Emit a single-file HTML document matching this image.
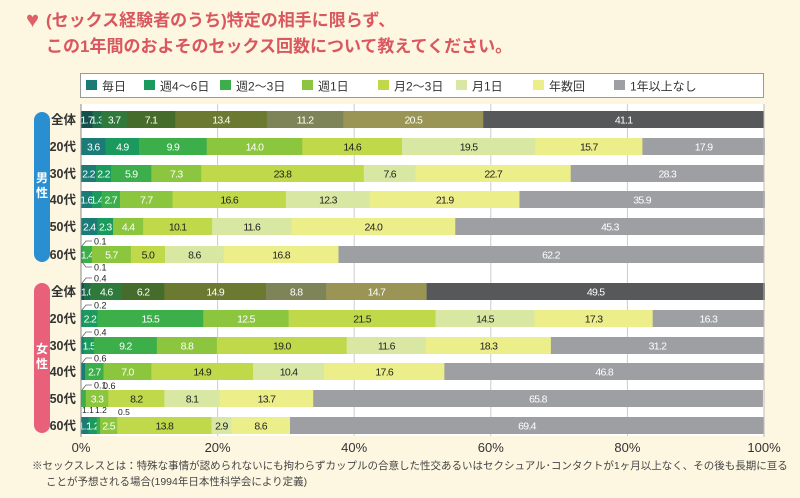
<!DOCTYPE html>
<html><head><meta charset="utf-8"><style>
body{margin:0;background:#fdf6e1;}
svg{display:block;font-family:"Liberation Sans","Noto Sans CJK JP",sans-serif;}
</style></head><body>
<svg id="s" width="800" height="498" xmlns="http://www.w3.org/2000/svg">
<rect width="800" height="498" fill="#fdf6e1"/>
<text x="26" y="27" font-size="22" fill="#e0606a">♥</text>
<text x="46" y="26" font-size="17" font-weight="bold" fill="#d9575f">(セックス経験者のうち)特定の相手に限らず、</text>
<text x="46" y="52" font-size="17" font-weight="bold" fill="#d9575f">この1年間のおよそのセックス回数について教えてください。</text>
<rect x="80.5" y="73.5" width="683" height="24" fill="#fff" stroke="#999"/>
<rect x="81" y="104" width="683" height="332" fill="#fff"/>
<g id="g"></g>
<line x1="81" y1="104" x2="81" y2="437" stroke="#888"/>
<line x1="764" y1="104" x2="764" y2="437" stroke="#bbb"/>
<rect x="34" y="112" width="16" height="150" rx="8" fill="#2a8fd0"/>
<text x="42" y="182" font-size="12" font-weight="bold" fill="#fff" text-anchor="middle">男</text>
<text x="42" y="197" font-size="12" font-weight="bold" fill="#fff" text-anchor="middle">性</text>
<rect x="34" y="283" width="16" height="150" rx="8" fill="#e8607a"/>
<text x="42" y="353" font-size="12" font-weight="bold" fill="#fff" text-anchor="middle">女</text>
<text x="42" y="368" font-size="12" font-weight="bold" fill="#fff" text-anchor="middle">性</text>
<g font-size="13" fill="#333" text-anchor="middle">
<text x="81" y="452">0%</text><text x="217.6" y="452">20%</text><text x="354.2" y="452">40%</text><text x="490.8" y="452">60%</text><text x="627.4" y="452">80%</text><text x="764" y="452">100%</text></g>
<text x="32" y="469" font-size="10.5" fill="#444">※セックスレスとは：特殊な事情が認められないにも拘わらずカップルの合意した性交あるいはセクシュアル･コンタクトが1ヶ月以上なく、その後も長期に亘る</text>
<text x="46" y="485" font-size="10.5" fill="#444">ことが予想される場合(1994年日本性科学会により定義)</text>
</svg>
<script>
const g=document.getElementById('g');const NS='http://www.w3.org/2000/svg';
function el(t,a,txt){const e=document.createElementNS(NS,t);for(const k in a)e.setAttribute(k,a[k]);if(txt!==undefined)e.textContent=txt;g.appendChild(e);return e;}
for(let i=1;i<5;i++)el('line',{x1:81+136.6*i,y1:104,x2:81+136.6*i,y2:436,stroke:'#ccc'});
const C=['#1b7b76','#1a9a5c','#3cae4a','#8cc63f','#bfd94a','#d8e7a2','#ecee8a','#9d9fa2'];
const T=['#134f4b','#1f6e4a','#2f7a3a','#466c2c','#6b7a30','#7f8458','#9a9555','#56585a'];
const dark=[1,1,1,1,0,0,0,1];
const names=['毎日','週4～6日','週2～3日','週1日','月2～3日','月1日','年数回','1年以上なし'];
const lx=[98,156,232,314,390,468,545,626];
names.forEach((n,i)=>{el('rect',{x:lx[i]-12,y:80,width:11,height:10,fill:C[i]});el('text',{x:lx[i]+4,y:90.5,'font-size':12,fill:'#333'},n);});
const rows=[
['全体',119,[1.7,1.3,3.7,7.1,13.4,11.2,20.5,41.1],1],
['20代',146,[3.6,4.9,9.9,14.0,14.6,19.5,15.7,17.9],0],
['30代',173,[2.2,2.2,5.9,7.3,23.8,7.6,22.7,28.3],0],
['40代',199,[1.6,1.4,2.7,7.7,16.6,12.3,21.9,35.9],0],
['50代',226,[2.4,2.3,0,4.4,10.1,11.6,24.0,45.3],0],
['60代',254,[0.1,0.1,1.4,5.7,5.0,8.6,16.8,62.2],0],
['全体',291,[0.4,1.0,4.6,6.2,14.9,8.8,14.7,49.5],1],
['20代',318,[0.2,2.2,15.5,12.5,21.5,14.5,17.3,16.3],0],
['30代',345,[0.4,1.5,9.2,8.8,19.0,11.6,18.3,31.2],0],
['40代',371,[0.6,0,2.7,7.0,14.9,10.4,17.6,46.8],0],
['50代',398,[0.1,0,0.6,3.3,8.2,8.1,13.7,65.8],0],
['60代',425,[1.1,1.2,0.5,2.5,13.8,2.9,8.6,69.4],0]];
rows.forEach(r=>{
 const [lab,y,v,tot]=r; let cols=tot?T:C;
 el('text',{x:76,y:y+5,'font-size':12.5,'font-weight':'bold',fill:'#333','text-anchor':'end'},lab);
 let x=81;const s=6.83;
 v.forEach((d,i)=>{
  const w=d*s; if(w<=0)return;
  el('rect',{x:x,y:y-8,width:w+0.3,height:17,fill:cols[i]});
  if(d>=1){const wh=tot||dark[i];
   el('text',{x:x+w/2,y:y+4.5,'font-size':10.5,'letter-spacing':-0.7,'text-anchor':'middle',fill:wh?'#fff':'#222'},d.toFixed(1));}
  x+=w;
 });
});
[[254,-13,'0.1'],[254,13,'0.1'],[291,-13,'0.4'],[318,-13,'0.2'],[345,-13,'0.4'],[371,-13,'0.6'],[398,-13,'0.1']].forEach(a=>{
 const yy=a[0]+a[1];el('path',{d:`M82 ${a[0]+(a[1]<0?-8:8)} L86 ${yy} L92 ${yy}`,stroke:'#666',fill:'none','stroke-width':0.8});
 el('text',{x:94,y:yy+3.5,'font-size':9,fill:'#222'},a[2]);});
el('text',{x:103,y:389,'font-size':9,fill:'#222'},'0.6');
el('text',{x:82,y:413,'font-size':8.5,fill:'#222'},'1.1');
el('text',{x:95,y:413,'font-size':8.5,fill:'#222'},'1.2');
el('text',{x:118,y:415,'font-size':8.5,fill:'#222'},'0.5');
</script>
</body></html>
